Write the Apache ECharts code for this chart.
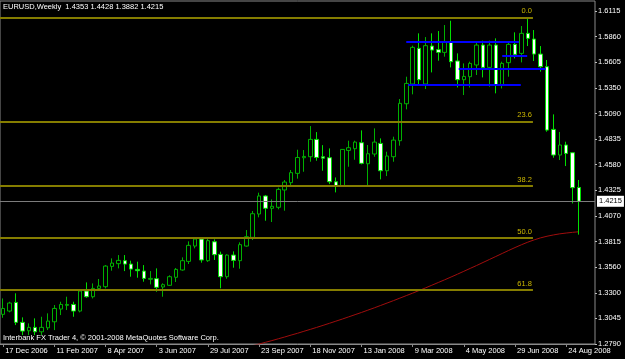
<!DOCTYPE html>
<html>
<head>
<meta charset="utf-8">
<script src="https://cdn.jsdelivr.net/npm/echarts@6/dist/echarts.min.js"></script>
<style>
html,body{margin:0;padding:0;background:#000;}
#chart{width:625px;height:359px;}
</style>
</head>
<body>
<div id="chart"></div>
<script>
// ---------- data ----------
const symbol = 'EURUSD';
const period = 'Weekly';
const copyright = 'Interbank FX Trader 4, \u00a9 2001-2008 MetaQuotes Software Corp.';
const startDate = Date.UTC(2006, 11, 17);
const slotCount = 93; // 91 weekly bars + empty space on the right
const monthNames = ['Jan','Feb','Mar','Apr','May','Jun','Jul','Aug','Sep','Oct','Nov','Dec'];
const categories = Array.from({length: slotCount}, (_, i) => {
  const d = new Date(startDate + i * 7 * 86400000);
  return d.getUTCDate() + ' ' + monthNames[d.getUTCMonth()] + ' ' + d.getUTCFullYear();
});

const opens = [1.3086,1.3119,1.3205,1.3006,1.2922,1.2956,1.2912,1.2952,1.3012,1.3139,
  1.3176,1.3185,1.3119,1.3319,1.3262,1.3345,1.3362,1.3565,1.3592,1.3622,
  1.3588,1.3535,1.3518,1.3436,1.3442,1.3359,1.3376,1.3456,1.3529,1.3615,
  1.3768,1.3838,1.3622,1.3811,1.3685,1.3462,1.3678,1.3622,1.3768,1.3855,
  1.4088,1.4268,1.4145,1.4155,1.4328,1.4401,1.4494,1.4650,1.4660,1.4833,
  1.4660,1.4650,1.4410,1.4370,1.4723,1.4740,1.4800,1.4590,1.4687,1.4793,
  1.4520,1.4660,1.4820,1.5189,1.5386,1.5742,1.5386,1.5765,1.5729,1.5702,
  1.5802,1.5616,1.5429,1.5459,1.5576,1.5775,1.5552,1.5775,1.5376,1.5599,
  1.5782,1.5692,1.5892,1.5835,1.5685,1.5559,1.4933,1.4677,1.4777,1.4700,
  1.4353];
const closes = [1.3145,1.3199,1.3006,1.2919,1.2956,1.2912,1.2956,1.3019,1.3145,1.3185,
  1.3185,1.3119,1.3319,1.3262,1.3345,1.3369,1.3568,1.3598,1.3625,1.3588,
  1.3538,1.3522,1.3445,1.3445,1.3356,1.3382,1.3462,1.3535,1.3622,1.3775,
  1.3838,1.3629,1.3822,1.3682,1.3462,1.3678,1.3625,1.3782,1.3862,1.4091,
  1.4268,1.4145,1.4165,1.4334,1.4407,1.4501,1.4652,1.4663,1.4833,1.4653,
  1.4646,1.4410,1.4370,1.4733,1.4750,1.4806,1.4594,1.4690,1.4806,1.4520,
  1.4667,1.4826,1.5193,1.5392,1.5752,1.5429,1.5769,1.5725,1.5702,1.5802,
  1.5609,1.5429,1.5462,1.5592,1.5775,1.5552,1.5775,1.5376,1.5592,1.5782,
  1.5682,1.5892,1.5842,1.5685,1.5559,1.4926,1.4677,1.4777,1.4693,1.4351,
  1.4215];
const lows = [1.3052,1.3106,1.2979,1.2879,1.2879,1.2879,1.2879,1.2929,1.2929,1.3079,
  1.3129,1.3062,1.3106,1.3252,1.3245,1.3335,1.3345,1.3522,1.3545,1.3518,
  1.3462,1.3452,1.3412,1.3385,1.3312,1.3262,1.3369,1.3409,1.3522,1.3589,
  1.3745,1.3602,1.3609,1.3629,1.3346,1.3442,1.3552,1.3542,1.3762,1.3828,
  1.4055,1.4021,1.4008,1.4135,1.4121,1.4374,1.4441,1.4510,1.4610,1.4620,
  1.4520,1.4387,1.4304,1.4366,1.4560,1.4630,1.4584,1.4361,1.4660,1.4434,
  1.4467,1.4610,1.4770,1.5133,1.5283,1.5386,1.5336,1.5502,1.5619,1.5659,
  1.5552,1.5352,1.5276,1.5352,1.5476,1.5452,1.5359,1.5293,1.5342,1.5459,
  1.5642,1.5602,1.5765,1.5616,1.5509,1.4910,1.4650,1.4627,1.4567,1.4194,
  1.3882];
const highs = [1.3245,1.3212,1.3296,1.3056,1.2996,1.3046,1.3062,1.3096,1.3179,1.3212,
  1.3262,1.3212,1.3329,1.3405,1.3395,1.3439,1.3578,1.3645,1.3678,1.3678,
  1.3622,1.3612,1.3578,1.3518,1.3545,1.3396,1.3476,1.3549,1.3655,1.3815,
  1.3855,1.3855,1.3842,1.3835,1.3712,1.3685,1.3715,1.3805,1.3928,1.4118,
  1.4301,1.4278,1.4234,1.4351,1.4427,1.4527,1.4730,1.4727,1.4966,1.4906,
  1.4776,1.4743,1.4453,1.4737,1.4820,1.4820,1.4923,1.4777,1.4943,1.4843,
  1.4710,1.4860,1.5236,1.5459,1.5769,1.5892,1.5855,1.5892,1.5915,1.5975,
  1.6018,1.5692,1.5592,1.5609,1.5802,1.5819,1.5819,1.5842,1.5609,1.5805,
  1.5902,1.5965,1.6045,1.5925,1.5765,1.5626,1.5083,1.4907,1.4810,1.4700,
  1.4428];
// moving average (red line), null where not drawn
const maValues = [null,null,null,null,null,null,null,null,null,null,
  null,null,null,null,null,null,null,null,null,null,
  null,null,null,null,null,null,null,null,null,null,
  null,null,null,null,null,null,null,null,1.2757,1.2774,
  1.2790,1.2807,1.2824,1.2842,1.2860,1.2879,1.2897,1.2917,1.2936,1.2956,
  1.2976,1.2997,1.3018,1.3039,1.3061,1.3083,1.3105,1.3128,1.3151,1.3175,
  1.3199,1.3223,1.3248,1.3273,1.3298,1.3324,1.3350,1.3377,1.3404,1.3431,
  1.3459,1.3487,1.3516,1.3545,1.3574,1.3604,1.3634,1.3664,1.3694,1.3724,
  1.3753,1.3781,1.3807,1.3830,1.3850,1.3866,1.3879,1.3890,1.3898,1.3905,
  1.3911];

// Fibonacci retracement
const fibHigh = 1.6052;
const fibLow = 1.1650;
const fibLevels = [0.0, 23.6, 38.2, 50.0, 61.8];
const fibStartBar = -0.5;
const fibEndBar = 82.8;

// blue horizontal trend lines: [startBar, endBar, price]
const blueLines = [
  [63.0, 80.6, 1.5808],
  [78.0, 81.9, 1.5666],
  [71.2, 84.8, 1.5543],
  [63.3, 80.9, 1.5376]
];

// price axis
const yTickLabels = ['1.2790','1.3045','1.3300','1.3560','1.3815','1.4070','1.4325',
  '1.4580','1.4835','1.5090','1.5350','1.5605','1.5860','1.6115'];
const yMin = 1.2790;
const yMax = 1.6215;
const yInterval = 0.02558;
const xLabelEvery = 8;
const lastLabelBar = 88;

// ---------- chart ----------
const n = opens.length;
const candleData = opens.map((o, i) => [o, closes[i], lows[i], highs[i]]);
const last = n - 1;
const fmt4 = v => v.toFixed(4);
const titleText = symbol + ',' + period + '  ' + fmt4(opens[last]) + ' ' + fmt4(highs[last]) + ' ' +
  fmt4(lows[last]) + ' ' + fmt4(closes[last]);

const FONT = 'Liberation Sans';
const labelInterval = (idx) => idx % xLabelEvery === 0 && idx <= lastLabelBar;

const fibMarks = fibLevels.map(lv => {
  const p = fibHigh - (fibHigh - fibLow) * lv / 100;
  return [
    {coord: [fibStartBar, p], label: {show: true, formatter: lv.toFixed(1)}},
    {coord: [fibEndBar, p]}
  ];
});
const blueMarks = blueLines.map(b => [{coord: [b[0], b[2]]}, {coord: [b[1], b[2]]}]);

const chart = echarts.init(document.getElementById('chart'), null, {renderer: 'canvas'});
chart.setOption({
  backgroundColor: '#000000',
  animation: false,
  textStyle: {fontFamily: FONT},
  title: [
    {text: titleText, left: 3, top: 3, padding: 0,
      textStyle: {color: '#ffffff', fontSize: 7.5, fontWeight: 'normal', fontFamily: FONT}},
    {text: copyright, left: 3, top: 334, padding: 0,
      textStyle: {color: '#ffffff', fontSize: 7.5, fontWeight: 'normal', fontFamily: FONT}}
  ],
  grid: {left: 0, right: 30, top: 1, bottom: 15, show: true, borderColor: '#8a8a8a', borderWidth: 1,
    backgroundColor: 'transparent'},
  xAxis: [
    {type: 'category', data: categories, boundaryGap: true,
      axisLine: {show: true, onZero: false, lineStyle: {color: '#8a8a8a'}},
      axisTick: {show: true, alignWithLabel: true, interval: labelInterval, length: 3,
        lineStyle: {color: '#8a8a8a'}},
      axisLabel: {interval: labelInterval, align: 'left', color: '#ffffff', fontSize: 7.5,
        fontFamily: FONT, margin: 3, padding: [0, 0, 0, 2]},
      splitLine: {show: false}},
    {type: 'value', min: -0.5, max: slotCount - 0.5, show: false,
      axisLine: {onZero: false}}
  ],
  yAxis: {
    type: 'value', position: 'right', min: yMin, max: yMax, interval: yInterval,
    axisLine: {show: false, onZero: false},
    axisTick: {show: true, length: 2, lineStyle: {color: '#bdbdbd'}},
    axisLabel: {color: '#ffffff', fontSize: 7.5, fontFamily: FONT, margin: 3,
      showMaxLabel: false,
      formatter: v => {
        const lab = yTickLabels.find(s => Math.abs(parseFloat(s) - v) < 0.001);
        return lab || '';
      }},
    splitLine: {show: false}
  },
  series: [
    {
      type: 'line', xAxisIndex: 1, yAxisIndex: 0, data: [], silent: true, z: 1,
      markLine: {
        silent: true, symbol: ['none', 'none'], animation: false, precision: 4,
        lineStyle: {color: '#857d00', width: 2, type: 'solid'},
        label: {show: true, position: 'insideEndTop', distance: [1, 2], color: '#cdb800',
          fontSize: 7.5, fontFamily: FONT},
        data: fibMarks
      }
    },
    {
      type: 'line', xAxisIndex: 1, yAxisIndex: 0, data: [], silent: true, z: 3,
      markLine: {
        silent: true, symbol: ['none', 'none'], animation: false, precision: 4,
        lineStyle: {color: '#0000ff', width: 2, type: 'solid'},
        label: {show: false},
        data: blueMarks
      }
    },
    {
      type: 'line', xAxisIndex: 0, yAxisIndex: 0, data: maValues, symbol: 'none', silent: true,
      clip: true, z: 2, lineStyle: {color: '#a00d0d', width: 1}
    },
    {
      type: 'candlestick', xAxisIndex: 0, yAxisIndex: 0, data: candleData, barWidth: 4, z: 4,
      itemStyle: {color: '#000000', color0: '#ffffff', borderColor: '#00b000', borderColor0: '#00e000',
        borderWidth: 1},
      markLine: {
        silent: true, symbol: ['none', 'none'], animation: false, precision: 4,
        lineStyle: {color: '#7c7c7c', width: 1, type: 'solid'},
        label: {show: true, position: 'end', distance: 2, formatter: () => fmt4(closes[last]),
          color: '#000000', backgroundColor: '#ffffff', padding: [2, 2, 1, 2],
          fontSize: 7.5, fontFamily: FONT},
        data: [{yAxis: closes[last]}]
      }
    }
  ]
});
</script>
</body>
</html>
